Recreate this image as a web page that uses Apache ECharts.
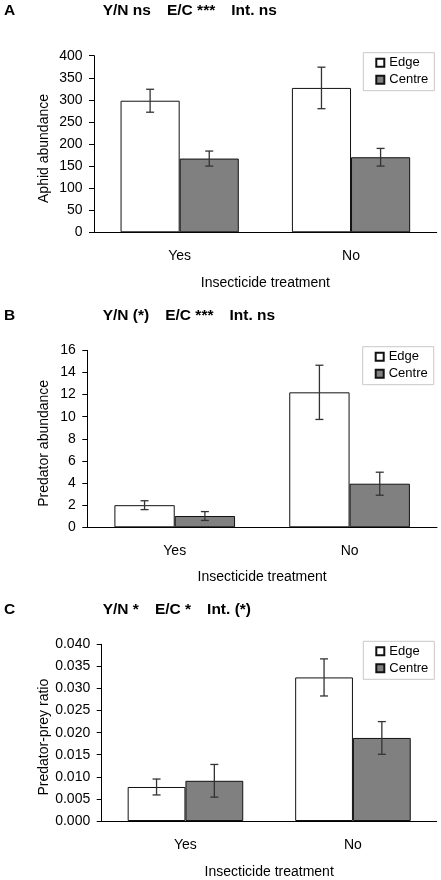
<!DOCTYPE html>
<html>
<head>
<meta charset="utf-8">
<script src="https://cdn.jsdelivr.net/npm/echarts@6/dist/echarts.min.js"></script>
<style>html,body{margin:0;padding:0;background:#fff}#c{width:441px;height:880px}</style>
</head>
<body>
<div id="c"></div>
<script>
// ---- data ----
const categories = ['Yes', 'No'];
const seriesNames = ['Edge', 'Centre'];

const aphidEdge = [298, 327];
const aphidEdgeErr = [26, 47];
const aphidCentre = [167, 170];
const aphidCentreErr = [17, 20];

const predEdge = [2.0, 12.2];
const predEdgeErr = [0.4, 2.45];
const predCentre = [1.02, 3.94];
const predCentreErr = [0.4, 1.04];

const ratioEdge = [0.0077, 0.0325];
const ratioEdgeErr = [0.0018, 0.0042];
const ratioCentre = [0.0091, 0.0188];
const ratioCentreErr = [0.0037, 0.0037];

const panelLetters = ['A', 'B', 'C'];
const SP = '   \u2009';
const panelStats = ['Y/N ns' + SP + 'E/C ***' + SP + 'Int. ns', 'Y/N (*)' + SP + 'E/C ***' + SP + 'Int. ns', 'Y/N *' + SP + 'E/C *' + SP + 'Int. (*)'];
const yTitles = ['Aphid abundance', 'Predator abundance', 'Predator-prey ratio'];
const xTitle = 'Insecticide treatment';
const yMax = [400, 16, 0.04];
const yInterval = [50, 2, 0.005];
const yDecimals = [0, 0, 3];

// ---- layout ----
const FONT = 'Liberation Sans, Arial, sans-serif';
const gap = 0.31;
const grids = [
  {left: 94, right: 4.3, top: 55.7, height: 176.6},
  {left: 87.3, right: 4, top: 350.3, height: 177},
  {left: 101.7, right: 4.3, top: 644.3, height: 177.7}
];
const legendPos = [{left: 363.3, top: 52.7}, {left: 362.7, top: 346.7}, {left: 363.3, top: 641.3}];
const titleTop = [3, 307.5, 602];
const labelMargin = [17, 16.5, 17.5];
const xNameGap = [44, 43, 44];
const yNameCenter = 44;

const panelData = [
  [aphidEdge, aphidEdgeErr, aphidCentre, aphidCentreErr],
  [predEdge, predEdgeErr, predCentre, predCentreErr],
  [ratioEdge, ratioEdgeErr, ratioCentre, ratioCentreErr]
];

function errRender(side) {
  return function (params, api) {
    const ci = api.value(0), v = api.value(1), e = api.value(2);
    const band = api.size([1, 0])[0];
    const bw = band * (1 - gap) / 2;
    const off = side * bw / 2;
    const t = api.coord([ci, v + e]);
    const b = api.coord([ci, v - e]);
    const x = t[0] + off;
    const cap = 4;
    const st = {stroke: '#333', lineWidth: 1.3};
    return {
      type: 'group',
      children: [
        {type: 'line', shape: {x1: x, y1: t[1], x2: x, y2: b[1]}, style: st},
        {type: 'line', shape: {x1: x - cap, y1: t[1], x2: x + cap, y2: t[1]}, style: st},
        {type: 'line', shape: {x1: x - cap, y1: b[1], x2: x + cap, y2: b[1]}, style: st}
      ]
    };
  };
}

const option = {
  backgroundColor: '#fff',
  animation: false,
  textStyle: {fontFamily: FONT},
  title: [],
  legend: [],
  grid: [],
  xAxis: [],
  yAxis: [],
  series: []
};

for (let p = 0; p < 3; p++) {
  option.title.push({text: panelLetters[p], left: 4, top: titleTop[p], padding: 0,
    textStyle: {fontFamily: FONT, fontSize: 15.5, fontWeight: 'bold', color: '#000'}});
  option.title.push({text: panelStats[p], left: 102.7, top: titleTop[p], padding: 0,
    textStyle: {fontFamily: FONT, fontSize: 15.5, fontWeight: 'bold', color: '#000'}});
  option.legend.push({
    data: seriesNames, orient: 'vertical', left: legendPos[p].left, top: legendPos[p].top,
    padding: [3, 6, 4, 12], itemGap: 3, itemWidth: 8, itemHeight: 8, itemTextGap: 3,
    borderColor: '#c8c8c8', borderWidth: 1, icon: 'rect',
    textStyle: {fontFamily: FONT, fontSize: 13, color: '#000', lineHeight: 14}
  });
  option.grid.push(Object.assign({containLabel: false}, grids[p]));
  option.xAxis.push({
    type: 'category', gridIndex: p, data: categories,
    axisLine: {show: true, lineStyle: {color: '#000', width: 1}},
    axisTick: {show: false},
    axisLabel: {color: '#000', fontSize: 14, fontFamily: FONT, margin: labelMargin[p]},
    name: xTitle, nameLocation: 'middle', nameGap: xNameGap[p], nameMoveOverlap: false,
    nameTextStyle: {color: '#000', fontSize: 14, fontFamily: FONT}
  });
  const dec = yDecimals[p];
  option.yAxis.push({
    type: 'value', gridIndex: p, min: 0, max: yMax[p], interval: yInterval[p],
    axisLine: {show: true, lineStyle: {color: '#000', width: 1}},
    axisTick: {show: true, inside: false, length: 5, lineStyle: {color: '#000'}},
    splitLine: {show: false},
    axisLabel: {color: '#000', fontSize: 14, fontFamily: FONT, margin: 11.5,
      formatter: v => v.toFixed(dec)},
    name: yTitles[p], nameLocation: 'middle', nameRotate: 90, nameMoveOverlap: false,
    nameGap: grids[p].left - yNameCenter - 7,
    nameTextStyle: {color: '#000', fontSize: 14, fontFamily: FONT, padding: [0, 9, 0, 0]}
  });
  const [eV, eE, cV, cE] = panelData[p];
  option.series.push({
    type: 'bar', name: seriesNames[0], xAxisIndex: p, yAxisIndex: p, data: eV,
    barGap: '0%', barCategoryGap: (gap * 100) + '%',
    itemStyle: {color: '#ffffff', borderColor: '#111', borderWidth: 1}
  });
  option.series.push({
    type: 'bar', name: seriesNames[1], xAxisIndex: p, yAxisIndex: p, data: cV,
    barGap: '0%', barCategoryGap: (gap * 100) + '%',
    itemStyle: {color: '#808080', borderColor: '#111', borderWidth: 1}
  });
  option.series.push({
    type: 'custom', xAxisIndex: p, yAxisIndex: p, z: 5,
    renderItem: errRender(-1),
    data: eV.map((v, i) => [i, v, eE[i]]),
    encode: {x: 0, y: 1}
  });
  option.series.push({
    type: 'custom', xAxisIndex: p, yAxisIndex: p, z: 5,
    renderItem: errRender(1),
    data: cV.map((v, i) => [i, v, cE[i]]),
    encode: {x: 0, y: 1}
  });
}

const chart = echarts.init(document.getElementById('c'), null, {renderer: 'canvas'});
chart.setOption(option);
</script>
</body>
</html>
